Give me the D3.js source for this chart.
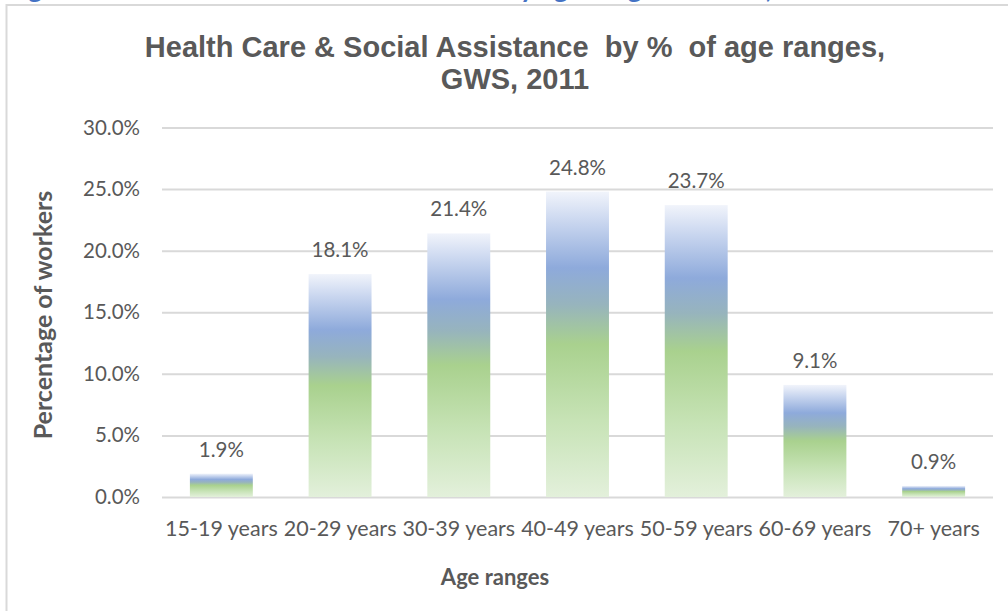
<!DOCTYPE html>
<html>
<head>
<meta charset="utf-8">
<script src="https://cdn.jsdelivr.net/npm/d3@7/dist/d3.min.js"></script>
<style>
  html, body { margin: 0; padding: 0; background: #ffffff; }
  svg { display: block; }
</style>
</head>
<body>
<svg id="chart" width="1008" height="611"></svg>
<script>
// Age-range categories and share of workers in each (fractions of 1)
const categories = ["15-19 years", "20-29 years", "30-39 years", "40-49 years", "50-59 years", "60-69 years", "70+ years"];
const shares = [0.019, 0.181, 0.214, 0.248, 0.237, 0.091, 0.009];
const yTicks = [0, 0.05, 0.10, 0.15, 0.20, 0.25, 0.30];

const titleLines = ["Health Care & Social Assistance  by %  of age ranges,", "GWS, 2011"];
const yTitle = "Percentage of workers";
const xTitle = "Age ranges";

const textColor = "#595959";
const gridColor = "#d9d9d9";
const labelFont = "Lato, 'Open Sans', sans-serif";

const svg = d3.select("#chart");

// Figure caption, mostly cropped above the frame
const caption = svg.append("text")
  .attr("y", -2)
  .attr("font-family", labelFont).attr("font-weight", "bold")
  .attr("font-size", 27).attr("fill", "#4472c4");
caption.append("tspan").attr("x", 6).text("Figure 6: Health Care & Social Assistance");
caption.append("tspan").attr("x", 505).text("by age ranges in GWS, 2011");

// Chart frame (left and top edges visible)
svg.append("path")
  .attr("d", "M6.5,611 L6.5,5 L1008,5")
  .attr("fill", "none").attr("stroke", "#d9d9d9").attr("stroke-width", 2);

const plot = { left: 162, right: 993, top: 127.5, bottom: 497 };

const x = d3.scaleBand()
  .domain(categories)
  .range([plot.left, plot.right])
  .paddingInner(0.47)
  .paddingOuter(0.235);

const y = d3.scaleLinear()
  .domain([0, 0.30])
  .range([plot.bottom, plot.top]);

// Vertical gradient used by every bar
const defs = svg.append("defs");
const grad = defs.append("linearGradient")
  .attr("id", "barFill")
  .attr("x1", 0).attr("y1", 0).attr("x2", 0).attr("y2", 1);
[
  [0.00, "#f1f4fb"],
  [0.10, "#c9d6ef"],
  [0.25, "#8eaadb"],
  [0.37, "#97b4bd"],
  [0.50, "#a9d18e"],
  [0.75, "#c7e3b6"],
  [1.00, "#e3f0db"]
].forEach(([o, c]) => grad.append("stop").attr("offset", o).attr("stop-color", c));

// Y axis with gridlines
const yAxis = svg.append("g")
  .attr("transform", `translate(${plot.left},0)`)
  .call(d3.axisLeft(y)
    .tickValues(yTicks)
    .tickFormat(d3.format(".1%"))
    .tickSize(-(plot.right - plot.left))
    .tickPadding(22));
yAxis.select(".domain").remove();
yAxis.selectAll(".tick line")
  .attr("stroke", gridColor).attr("stroke-width", 2);
yAxis.selectAll(".tick text")
  .attr("font-family", labelFont).attr("font-size", 20.5)
  .attr("fill", textColor);

// Bars
svg.append("g").selectAll("rect")
  .data(shares)
  .join("rect")
  .attr("x", (d, i) => x(categories[i]))
  .attr("y", d => y(d))
  .attr("width", x.bandwidth())
  .attr("height", d => y(0) - y(d))
  .attr("fill", "url(#barFill)");

// Value labels
svg.append("g").selectAll("text")
  .data(shares)
  .join("text")
  .attr("x", (d, i) => x(categories[i]) + x.bandwidth() / 2)
  .attr("y", d => y(d) - 17)
  .attr("text-anchor", "middle")
  .attr("font-family", labelFont).attr("font-size", 20.5)
  .attr("fill", textColor)
  .text(d => d3.format(".1%")(d));

// X axis labels
const xAxis = svg.append("g")
  .attr("transform", `translate(0,${plot.bottom})`)
  .call(d3.axisBottom(x).tickSize(0).tickPadding(24));
xAxis.select(".domain").remove();
xAxis.selectAll(".tick text")
  .attr("font-family", labelFont).attr("font-size", 21.5)
  .attr("fill", textColor);

// Title
svg.append("g").selectAll("text")
  .data(titleLines)
  .join("text")
  .attr("x", 515)
  .attr("y", (d, i) => 57 + i * 32)
  .attr("text-anchor", "middle")
  .attr("font-family", "'Liberation Sans', Arial, sans-serif")
  .attr("font-weight", "bold").attr("font-size", 29)
  .attr("fill", textColor)
  .style("white-space", "pre")
  .text(d => d);

// Axis titles
svg.append("text")
  .attr("transform", "translate(52,315) rotate(-90)")
  .attr("text-anchor", "middle")
  .attr("font-family", labelFont).attr("font-weight", "bold").attr("font-size", 25)
  .attr("fill", textColor)
  .text(yTitle);

svg.append("text")
  .attr("x", 495).attr("y", 585)
  .attr("text-anchor", "middle")
  .attr("font-family", labelFont).attr("font-weight", "bold").attr("font-size", 22)
  .attr("fill", textColor)
  .text(xTitle);
</script>
</body>
</html>
